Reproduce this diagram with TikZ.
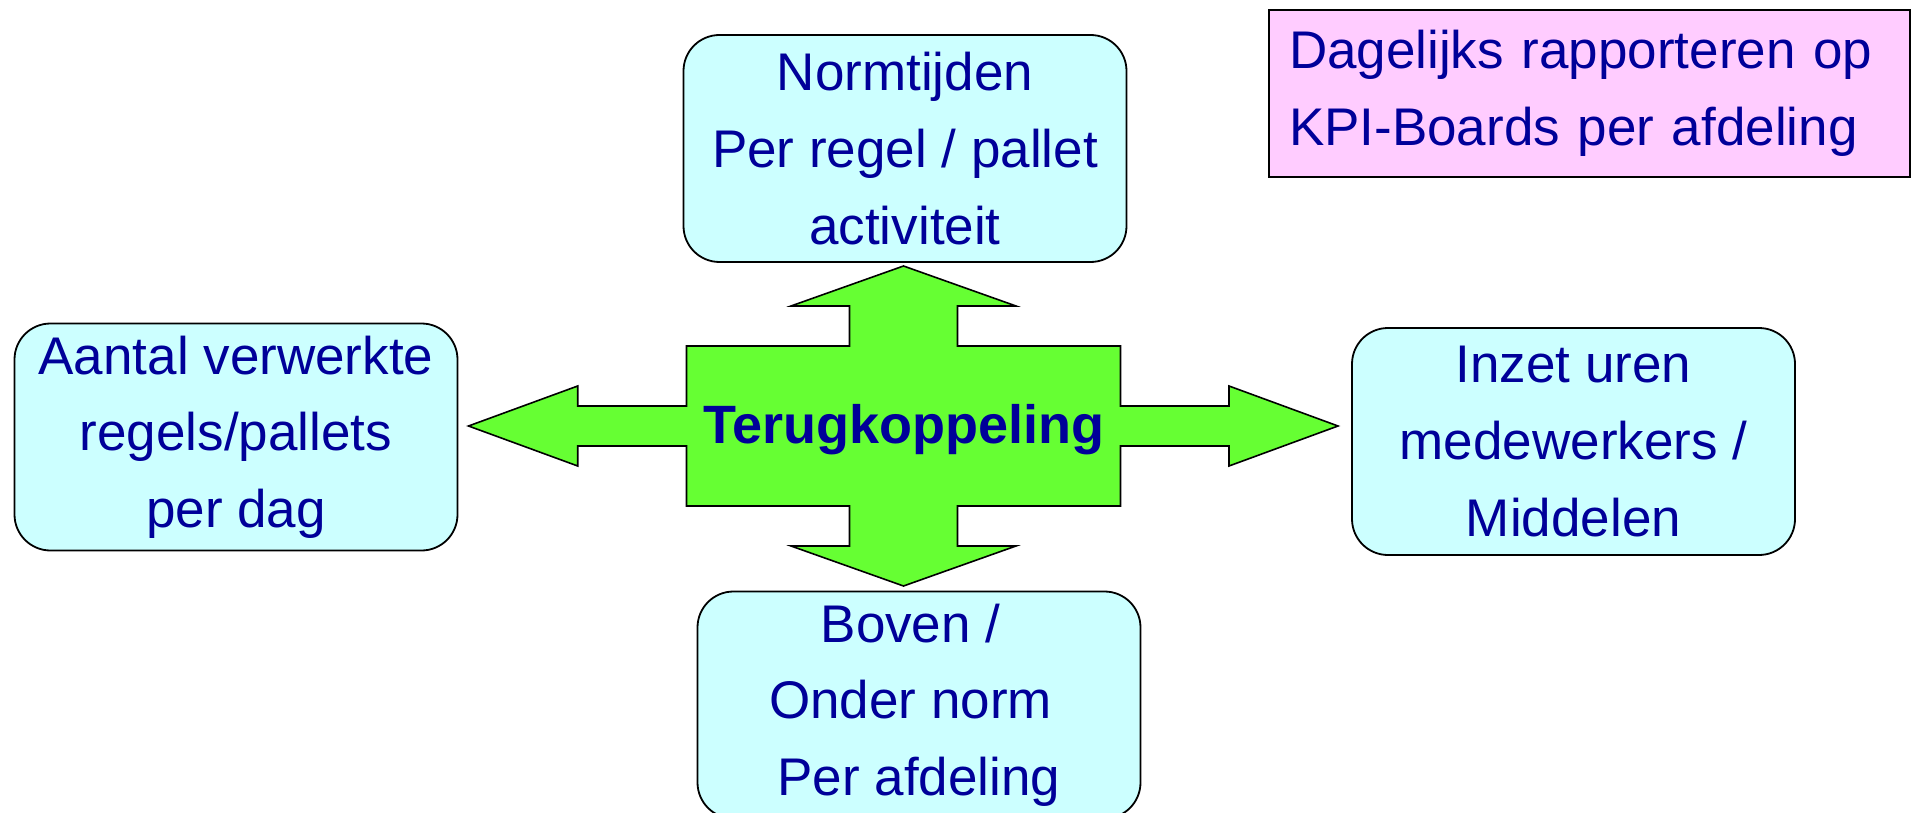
\documentclass[tikz,border=0pt]{standalone}
\usepackage{fontspec}
\setmainfont{Liberation Sans}
\definecolor{txt}{HTML}{000099}
\definecolor{cyanbox}{HTML}{CCFFFF}
\definecolor{pinkbox}{HTML}{FFCCFF}
\definecolor{arrowgreen}{HTML}{66FF33}
\begin{document}
\begin{tikzpicture}[x=1pt,y=-1pt,
  infobox/.style={draw=black, line width=1.8pt, fill=cyanbox, rounded corners=36pt,
    text=txt, align=center, font=\fontsize{53}{76.7}\selectfont, inner sep=0pt,
    minimum width=443pt, minimum height=227pt},
  notebox/.style={draw=black, line width=1.8pt, fill=pinkbox, text=txt,
    font=\fontsize{53}{76.7}\selectfont, align=left, inner xsep=20pt, inner ysep=0pt,
    text width=601pt, minimum height=167pt},
  bigarrow/.style={draw=black, line width=1.6pt, fill=arrowgreen, line join=miter},
  centerlabel/.style={text=txt, font=\fontsize{54}{64}\selectfont\bfseries, inner sep=0pt}]
\useasboundingbox (0,0) rectangle (1912,813);
\clip (0,0) rectangle (1912,813);

% feedback cross arrow
\path[bigarrow] (903.5,266) -- (1016,306) -- (957.5,306) -- (957.5,346) -- (1120.5,346)
  -- (1120.5,406) -- (1229,406) -- (1229,386) -- (1338,426) -- (1229,466) -- (1229,446)
  -- (1120.5,446) -- (1120.5,506) -- (957.5,506) -- (957.5,546) -- (1016,546)
  -- (903.5,586) -- (791,546) -- (849.5,546) -- (849.5,506) -- (686.5,506)
  -- (686.5,446) -- (577.7,446) -- (577.7,466) -- (468.5,426) -- (577.7,386)
  -- (577.7,406) -- (686.5,406) -- (686.5,346) -- (849.5,346) -- (849.5,306)
  -- (791,306) -- cycle;
\node[centerlabel] (center) at (903.5,430) {Terugkoppeling};

\node[infobox] (top) at (905,148.5) {Normtijden\\Per regel / pallet\\activiteit};
\node[infobox] (left) at (236,437) {Aantal verwerkte\\regels/pallets\\per dag};
\node[infobox] (right) at (1573.5,441.5) {Inzet uren\\medewerkers /\\Middelen};
\node[infobox] (bottom) at (919,705) {Boven /\hspace*{0.32em}\mbox{}\\Onder norm\hspace*{0.32em}\mbox{}\\Per afdeling};
\node[notebox] (note) at (1589.5,93.5) {Dagelijks rapporteren op\\KPI-Boards per afdeling};
\end{tikzpicture}
\end{document}
